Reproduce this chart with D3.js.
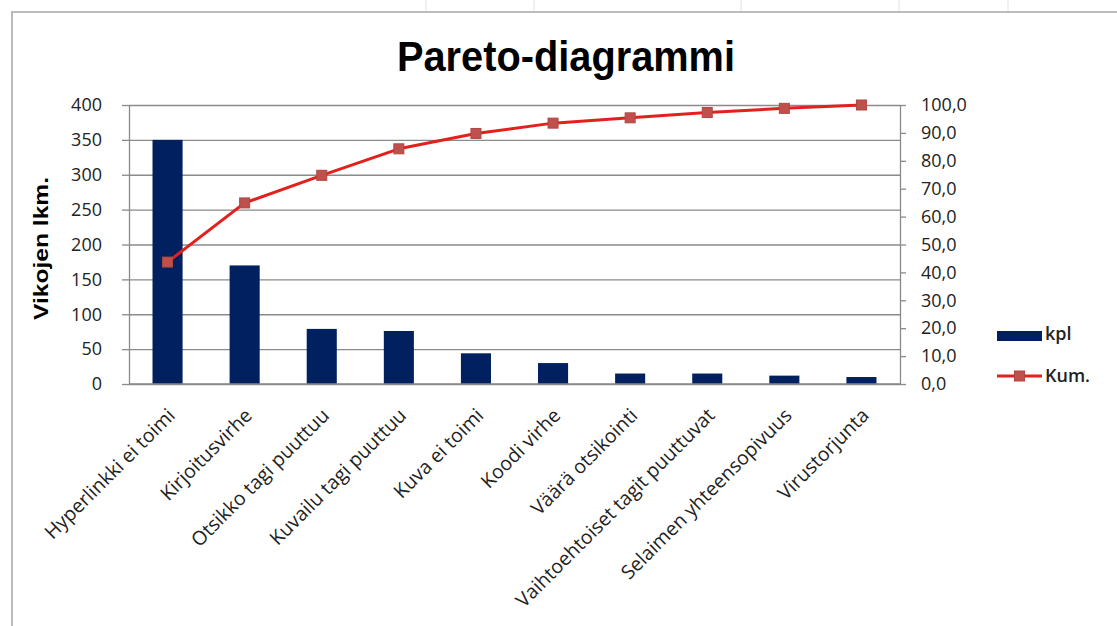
<!DOCTYPE html>
<html>
<head>
<meta charset="utf-8">
<script src="https://cdn.jsdelivr.net/npm/d3@7"></script>
<style>
  html, body { margin: 0; padding: 0; background: #fff; }
  svg { display: block; }
  text { font-family: "Open Sans", "DejaVu Sans", sans-serif; fill: #222; }
  text.arial { font-family: "Liberation Sans", Arial, sans-serif; font-weight: bold; fill: #000; }
</style>
</head>
<body>
<svg id="chart" width="1117" height="626"></svg>
<script>
// Vikatyypit ja niiden lukumäärät (kpl) sekä kumulatiivinen osuus (%)
const categories = [
  "Hyperlinkki ei toimi", "Kirjoitusvirhe", "Otsikko tagi puuttuu",
  "Kuvailu tagi puuttuu", "Kuva ei toimi", "Koodi virhe",
  "Väärä otsikointi", "Vaihtoehtoiset tagit puuttuvat",
  "Selaimen yhteensopivuus", "Virustorjunta"
];
const kpl = [350, 170, 79, 76, 44, 30, 15, 15, 12, 10];
const kum = [43.7, 64.9, 74.8, 84.3, 89.8, 93.5, 95.4, 97.3, 98.8, 100.0];

const leftTicks = [0, 50, 100, 150, 200, 250, 300, 350, 400];
const rightTicks = [0, 10, 20, 30, 40, 50, 60, 70, 80, 90, 100];

const titleText = "Pareto-diagrammi";
const yTitleText = "Vikojen lkm.";
const legendBar = "kpl";
const legendLine = "Kum.";

const svg = d3.select("#chart");

const plot = { left: 129, right: 900, top: 105, bottom: 384 };
const barColor = "#002060";
const lineColor = "#e3201b";
const markerColor = "#c0504d";
const gridColor = "#8a8a8a";

// Spreadsheet column lines above the chart object
[426, 534, 741, 899, 1008].forEach(x => {
  svg.append("line").attr("x1", x).attr("x2", x).attr("y1", 0).attr("y2", 12)
    .attr("stroke", "#e2e2e2").attr("stroke-width", 1);
});

// Chart object frame
svg.append("path")
  .attr("d", "M12,626 L12,12 L1117,12")
  .attr("fill", "none").attr("stroke", "#a6a6a6").attr("stroke-width", 1.5);

const x = d3.scaleBand().domain(categories)
  .range([plot.left, plot.right])
  .paddingInner(0.61).paddingOuter(0.305);
const yL = d3.scaleLinear().domain([0, 400]).range([plot.bottom, plot.top]);
const yR = d3.scaleLinear().domain([0, 100]).range([plot.bottom, plot.top]);

const fi = d3.formatLocale({ decimal: ",", thousands: " ", grouping: [3], currency: ["", " €"] });
const fmtR = fi.format(".1f");

// Horizontal gridlines
const grid = svg.append("g").attr("transform", `translate(${plot.left},0)`)
  .call(d3.axisLeft(yL).tickValues(leftTicks).tickSize(-(plot.right - plot.left)).tickFormat(""));
grid.select(".domain").remove();
grid.selectAll(".tick line").attr("stroke", gridColor).attr("stroke-width", 1.3);

// Left axis
const axL = svg.append("g").attr("transform", `translate(${plot.left},0)`)
  .call(d3.axisLeft(yL).tickValues(leftTicks).tickSize(7).tickPadding(20).tickSizeOuter(0));
axL.select(".domain").attr("stroke", gridColor).attr("stroke-width", 1.3);
axL.selectAll(".tick line").attr("stroke", gridColor).attr("stroke-width", 1.3);
axL.selectAll(".tick text").attr("font-size", 18).attr("font-family", null);

// Right axis
const axR = svg.append("g").attr("transform", `translate(${plot.right},0)`)
  .call(d3.axisRight(yR).tickValues(rightTicks).tickSize(6).tickPadding(15).tickSizeOuter(0).tickFormat(fmtR));
axR.select(".domain").attr("stroke", gridColor).attr("stroke-width", 1.3);
axR.selectAll(".tick line").attr("stroke", gridColor).attr("stroke-width", 1.3);
axR.selectAll(".tick text").attr("font-size", 18).attr("font-family", null);

// Bars
svg.append("g").selectAll("rect").data(categories).join("rect")
  .attr("x", d => x(d))
  .attr("y", (d, i) => yL(kpl[i]))
  .attr("width", x.bandwidth())
  .attr("height", (d, i) => yL(0) - yL(kpl[i]))
  .attr("fill", barColor);

// Category axis baseline
svg.append("line")
  .attr("x1", plot.left).attr("x2", plot.right)
  .attr("y1", plot.bottom).attr("y2", plot.bottom)
  .attr("stroke", gridColor).attr("stroke-width", 1.3);

// Category labels, rotated
const cx = d => x(d) + x.bandwidth() / 2;
svg.append("g").selectAll("text").data(categories).join("text")
  .attr("transform", d => `translate(${cx(d) + 5},${plot.bottom + 29}) rotate(-45)`)
  .attr("text-anchor", "end")
  .attr("dominant-baseline", "middle")
  .attr("font-size", 19.5)
  .text(d => d);

// Cumulative line
const line = d3.line()
  .x((d, i) => cx(categories[i]))
  .y(d => yR(d));
svg.append("path").datum(kum)
  .attr("d", line)
  .attr("fill", "none")
  .attr("stroke", lineColor)
  .attr("stroke-width", 3)
  .attr("stroke-linejoin", "round");

const ms = 10;
svg.append("g").selectAll("rect").data(kum).join("rect")
  .attr("x", (d, i) => cx(categories[i]) - ms / 2)
  .attr("y", d => yR(d) - ms / 2)
  .attr("width", ms).attr("height", ms)
  .attr("fill", markerColor)
  .attr("stroke", "#b04642").attr("stroke-width", 1);

// Title
svg.append("text").attr("class", "arial")
  .attr("x", 566).attr("y", 71)
  .attr("text-anchor", "middle")
  .attr("font-size", 42)
  .attr("textLength", 338)
  .attr("lengthAdjust", "spacingAndGlyphs")
  .text(titleText);

// Left axis title
svg.append("text").attr("class", "arial")
  .attr("transform", `translate(48,${(plot.top + plot.bottom) / 2 + 4}) rotate(-90)`)
  .attr("text-anchor", "middle")
  .attr("font-size", 20)
  .attr("textLength", 143)
  .attr("lengthAdjust", "spacingAndGlyphs")
  .text(yTitleText);

// Legend
const lg = svg.append("g");
lg.append("rect").attr("x", 997).attr("y", 331).attr("width", 45).attr("height", 10).attr("fill", barColor);
lg.append("text").attr("x", 1045).attr("y", 335).attr("dominant-baseline", "middle")
  .attr("font-size", 18).style("font-weight", 600).text(legendBar);
lg.append("line").attr("x1", 997).attr("x2", 1042).attr("y1", 376).attr("y2", 376)
  .attr("stroke", lineColor).attr("stroke-width", 3);
lg.append("rect").attr("x", 1019.5 - ms / 2).attr("y", 376 - ms / 2).attr("width", ms).attr("height", ms)
  .attr("fill", markerColor).attr("stroke", "#b04642").attr("stroke-width", 1);
lg.append("text").attr("x", 1045).attr("y", 377).attr("dominant-baseline", "middle")
  .attr("font-size", 18).style("font-weight", 600).text(legendLine);
</script>
</body>
</html>
